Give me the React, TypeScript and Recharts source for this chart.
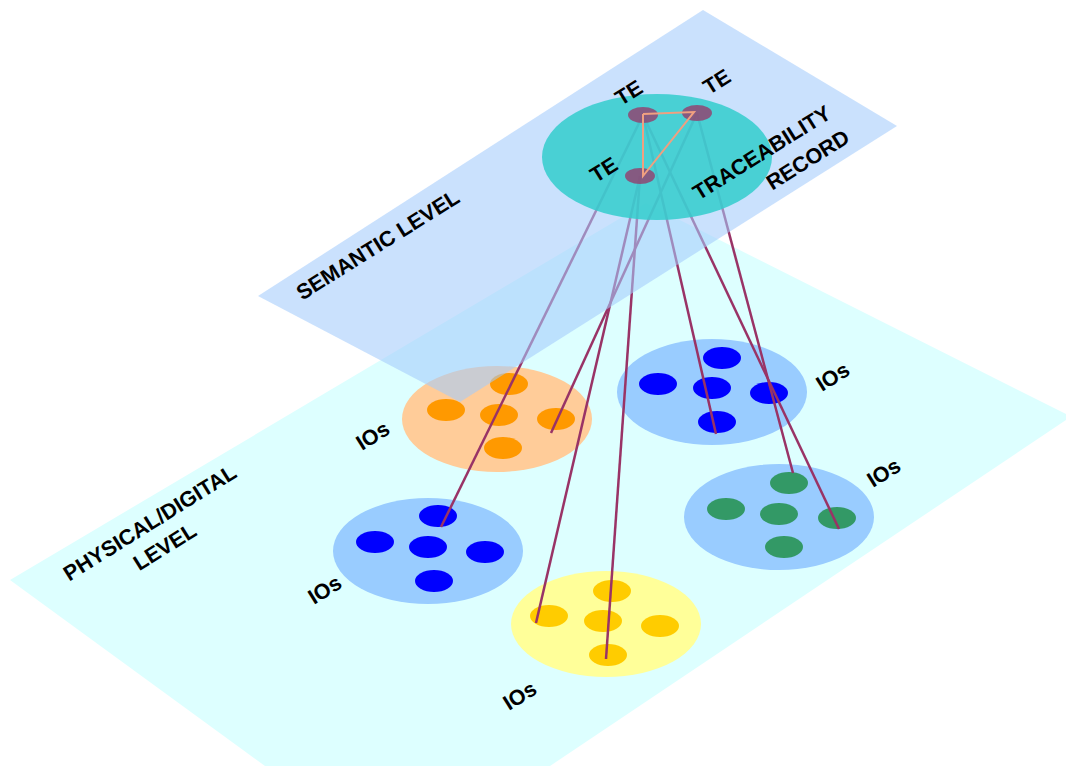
import React from "react";
import { ScatterChart, Scatter, XAxis, YAxis } from "recharts";

const W = 1066;
const H = 766;

// planes (corner points, image space)
const physicalPlane = [
  { x: 10, y: 580 },
  { x: 646, y: 203 },
  { x: 1066, y: 414 },
  { x: 1066, y: 420 },
  { x: 550, y: 766 },
  { x: 265, y: 766 },
];
const semanticPlane = [
  { x: 258, y: 296 },
  { x: 703, y: 10 },
  { x: 897, y: 126 },
  { x: 460, y: 402 },
];

// IO clusters: centre of the big ellipse + the five objects
const orangeCluster = [{ x: 497, y: 419 }];
const orangeDots = [
  { x: 446, y: 410 },
  { x: 509, y: 384 },
  { x: 499, y: 415 },
  { x: 556, y: 419 },
  { x: 503, y: 448 },
];
const blueRightCluster = [{ x: 712, y: 392 }];
const blueRightDots = [
  { x: 722, y: 358 },
  { x: 658, y: 384 },
  { x: 712, y: 388 },
  { x: 769, y: 393 },
  { x: 717, y: 422 },
];
const greenCluster = [{ x: 779, y: 517 }];
const greenDots = [
  { x: 789, y: 483 },
  { x: 726, y: 509 },
  { x: 779, y: 514 },
  { x: 837, y: 518 },
  { x: 784, y: 547 },
];
const blueLeftCluster = [{ x: 428, y: 551 }];
const blueLeftDots = [
  { x: 438, y: 516 },
  { x: 375, y: 542 },
  { x: 428, y: 547 },
  { x: 485, y: 552 },
  { x: 434, y: 581 },
];
const yellowCluster = [{ x: 606, y: 624 }];
const yellowDots = [
  { x: 612, y: 591 },
  { x: 549, y: 616 },
  { x: 603, y: 621 },
  { x: 660, y: 626 },
  { x: 608, y: 655 },
];

// traceability record
const recordCentre = [{ x: 657, y: 157 }];
const teNodes = [
  { x: 643, y: 115 },
  { x: 697, y: 113 },
  { x: 640, y: 176 },
];
const teTriangle = [
  { x: 643, y: 114 },
  { x: 694, y: 112 },
  { x: 643, y: 176 },
  { x: 643, y: 114 },
];

// links TE -> IO
const links = [
  [{ x: 643, y: 115 }, { x: 441, y: 527 }],
  [{ x: 697, y: 113 }, { x: 551, y: 433 }],
  [{ x: 640, y: 176 }, { x: 536, y: 623 }],
  [{ x: 640, y: 176 }, { x: 606, y: 659 }],
  [{ x: 643, y: 115 }, { x: 716, y: 434 }],
  [{ x: 697, y: 113 }, { x: 793, y: 473 }],
  [{ x: 643, y: 115 }, { x: 839, y: 529 }],
];

const labels = [
  { x: 629, y: 93, text: "TE" },
  { x: 717, y: 82, text: "TE" },
  { x: 604, y: 170, text: "TE" },
  { x: 762, y: 153, text: "TRACEABILITY" },
  { x: 808, y: 160, text: "RECORD" },
  { x: 378, y: 245, text: "SEMANTIC LEVEL" },
  { x: 150, y: 523, text: "PHYSICAL/DIGITAL" },
  { x: 165, y: 547, text: "LEVEL" },
  { x: 373, y: 436, text: "IOs" },
  { x: 833, y: 377, text: "IOs" },
  { x: 884, y: 473, text: "IOs" },
  { x: 325, y: 590, text: "IOs" },
  { x: 520, y: 696, text: "IOs" },
];

const none = () => <g />;

const polygon = (fill: string, opacity = 1) => (props: any) => {
  const pts = (props.points || []).map((p: any) => `${p.x},${p.y}`).join(" ");
  return <polygon points={pts} fill={fill} fillOpacity={opacity} stroke="none" />;
};

const ellipse = (rx: number, ry: number, fill: string, opacity = 1) => (props: any) => (
  <ellipse cx={props.cx} cy={props.cy} rx={rx} ry={ry} fill={fill} fillOpacity={opacity} />
);

const label = (props: any) => (
  <text
    x={props.cx}
    y={props.cy}
    textAnchor="middle"
    dominantBaseline="central"
    transform={`rotate(-32 ${props.cx} ${props.cy})`}
    fontFamily="'Liberation Sans', Arial, sans-serif"
    fontWeight="bold"
    fontSize={21.5}
    fill="#000"
  >
    {props.payload.text}
  </text>
);

const clusters = [
  { centre: orangeCluster, dots: orangeDots, big: "#FFCC99", dot: "#FF9900" },
  { centre: blueRightCluster, dots: blueRightDots, big: "#99CCFF", dot: "#0000FF" },
  { centre: greenCluster, dots: greenDots, big: "#99CCFF", dot: "#339966" },
  { centre: blueLeftCluster, dots: blueLeftDots, big: "#99CCFF", dot: "#0000FF" },
  { centre: yellowCluster, dots: yellowDots, big: "#FFFF99", dot: "#FFCC00" },
];

export default function App() {
  return (
    <div style={{ position: "absolute", left: 0, top: 0, background: "#fff" }}>
      <ScatterChart width={W} height={H} margin={{ top: 0, right: 0, bottom: 0, left: 0 }}>
        <XAxis type="number" dataKey="x" domain={[0, W]} allowDataOverflow hide />
        <YAxis type="number" dataKey="y" domain={[0, H]} allowDataOverflow reversed hide />

        <Scatter data={physicalPlane} shape={none} line={polygon("#DDFFFF")} isAnimationActive={false} />

        {clusters.map((c, i) => (
          <Scatter key={`c${i}`} data={c.centre} shape={ellipse(95, 53, c.big)} isAnimationActive={false} />
        ))}
        {clusters.map((c, i) => (
          <Scatter key={`d${i}`} data={c.dots} shape={ellipse(19, 11, c.dot)} isAnimationActive={false} />
        ))}

        {links.map((l, i) => (
          <Scatter
            key={`l${i}`}
            data={l}
            shape={none}
            line={{ stroke: "#993366", strokeWidth: 2.5 }}
            lineType="joint"
            isAnimationActive={false}
          />
        ))}

        <Scatter data={semanticPlane} shape={none} line={polygon("#A4CCFB", 0.58)} isAnimationActive={false} />
        <Scatter data={recordCentre} shape={ellipse(115, 63, "#33CCCC", 0.85)} isAnimationActive={false} />
        <Scatter data={teNodes} shape={ellipse(15, 8, "#993366", 0.75)} isAnimationActive={false} />
        <Scatter
          data={teTriangle}
          shape={none}
          line={{ stroke: "#F0A080", strokeWidth: 2 }}
          lineType="joint"
          isAnimationActive={false}
        />
        <Scatter data={labels} shape={label} isAnimationActive={false} />
      </ScatterChart>
    </div>
  );
}
